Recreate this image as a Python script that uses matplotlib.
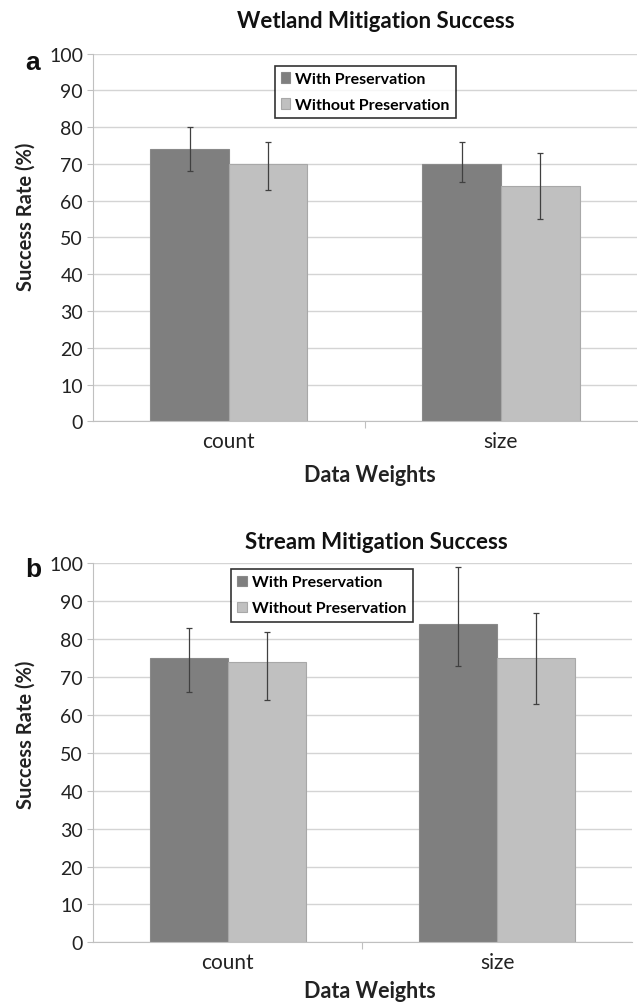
import matplotlib
matplotlib.use("Agg")
import numpy as np
import matplotlib.pyplot as plt

plt.rcParams['font.family'] = ['Lato', 'DejaVu Sans']

categories = ['count', 'size']
series_names = ['With Preservation', 'Without Preservation']

# panel a: wetland
wet_with = [74, 70]
wet_with_lo = [68, 65]
wet_with_hi = [80, 76]
wet_without = [70, 64]
wet_without_lo = [63, 55]
wet_without_hi = [76, 73]

# panel b: stream
str_with = [75, 84]
str_with_lo = [66, 73]
str_with_hi = [83, 99]
str_without = [74, 75]
str_without_lo = [64, 63]
str_without_hi = [82, 87]

W, H = 638, 1004
fig = plt.figure(figsize=(W / 100, H / 100), dpi=100)

dark = '#7f7f7f'
light = '#c0c0c0'
bw = 0.289


def panel(rect, vals_w, lo_w, hi_w, vals_wo, lo_wo, hi_wo, title, letter, title_y, letter_y,
          leg_xy, xlab_y, ylab_y):
    ax = fig.add_axes(rect)
    x = np.arange(len(categories))
    ax.bar(x - bw / 2, vals_w, bw, color=dark, edgecolor='#8a8a8a', linewidth=0.8,
           label=series_names[0], zorder=2)
    ax.bar(x + bw / 2, vals_wo, bw, color=light, edgecolor='#a8a8a8', linewidth=0.8,
           label=series_names[1], zorder=2)
    for xs, v, lo, hi in [(x - bw / 2, vals_w, lo_w, hi_w), (x + bw / 2, vals_wo, lo_wo, hi_wo)]:
        v = np.array(v)
        err = [v - np.array(lo), np.array(hi) - v]
        ax.errorbar(xs, v, yerr=err, fmt='none', ecolor='#404040', elinewidth=0.9,
                    capsize=2.2, capthick=0.9, zorder=3)
    ax.set_xlim(-0.5, 1.5)
    ax.set_ylim(0, 100)
    ax.set_yticks(range(0, 101, 10))
    ax.yaxis.grid(True, color='#d4d4d4', linewidth=1.0, zorder=0)
    ax.set_axisbelow(True)
    for s in ['top', 'right']:
        ax.spines[s].set_visible(False)
    ax.spines['left'].set_color('#c0c0c0')
    ax.spines['bottom'].set_color('#c0c0c0')
    ax.tick_params(axis='y', length=4, color='#c0c0c0', labelsize=14, pad=3,
                   labelcolor='#222222')
    ax.set_xticks([0.5])
    ax.set_xticklabels([''])
    ax.tick_params(axis='x', length=5, color='#c0c0c0')
    for xi, c in zip(x, categories):
        ax.text(xi, -5.3, c, ha='center', va='center', fontsize=15, color='#222222',
                transform=ax.transData)
    fig.text(26 / W, 1 - ylab_y / H, 'Success Rate (%)', rotation=90, ha='center', va='center',
             fontsize=14.5, fontweight='bold', color='#222222')
    fig.text(370 / W, 1 - xlab_y / H, 'Data Weights', ha='center', va='center',
             fontsize=15.5, fontweight='bold', color='#222222')
    fig.text(376 / W, 1 - title_y / H, title, ha='center', va='center',
             fontsize=16, fontweight='bold', color='#111111')
    fig.text(33 / W, 1 - letter_y / H, letter, ha='center', va='center',
             fontsize=19, fontweight='bold', color='#111111', family='Liberation Sans')
    leg = ax.legend(loc='upper left', bbox_to_anchor=(leg_xy[0] / W, 1 - leg_xy[1] / H),
                    bbox_transform=fig.transFigure, borderaxespad=0, frameon=True,
                    fancybox=False, edgecolor='black', handlelength=0.6, handleheight=0.6,
                    handletextpad=0.3, labelspacing=0.75, borderpad=0.4,
                    prop={'size': 11.5, 'weight': 'bold'})
    leg.get_frame().set_linewidth(1.2)
    return ax


ax1 = panel([92.8 / W, 1 - 422.3 / H, (637 - 92.8) / W, (422.3 - 54.5) / H],
            wet_with, wet_with_lo, wet_with_hi, wet_without, wet_without_lo, wet_without_hi,
            'Wetland Mitigation Success', 'a', 21, 63, (274.5, 66.7), 476, 217)
ax2 = panel([92.8 / W, 1 - 943.3 / H, (632 - 92.8) / W, (943.3 - 564.4) / H],
            str_with, str_with_lo, str_with_hi, str_without, str_without_lo, str_without_hi,
            'Stream Mitigation Success', 'b', 543, 570, (231, 570), 992, 735)

fig.savefig('out.png', dpi=100)
